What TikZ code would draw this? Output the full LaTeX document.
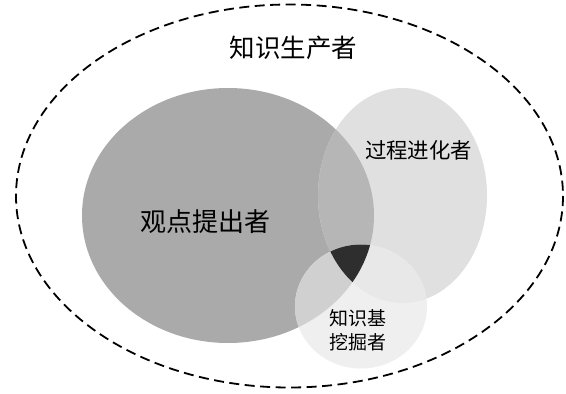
\documentclass[tikz,border=0pt]{standalone}
\usepackage{fontspec}
\newfontfamily\cjk{Noto Sans CJK SC}
\definecolor{cbig}{HTML}{AAAAAA}
\definecolor{cell}{HTML}{E0E0E0}
\definecolor{csmall}{HTML}{EFEFEF}
\definecolor{cbe}{HTML}{B6B6B6}
\definecolor{cbs}{HTML}{D0D0D0}
\definecolor{ces}{HTML}{E8E8E8}
\definecolor{call}{HTML}{2E2E2E}
\tikzset{lbl/.style={text=black, inner sep=0pt}}
\begin{document}
\begin{tikzpicture}[x=1pt,y=-1pt]
\useasboundingbox (0,0) rectangle (566,394);
\fill[white] (0,0) rectangle (566,394);
% base shapes
\fill[cbig] (228,215.5) ellipse [x radius=146, y radius=127.5];
\fill[cell] (402.5,195.5) ellipse [x radius=84.5, y radius=107.5];
\fill[csmall] (361,306.5) ellipse [x radius=66, y radius=62];
% big and ellipse
\begin{scope}
\clip (228,215.5) ellipse [x radius=146, y radius=127.5];
\fill[cbe] (402.5,195.5) ellipse [x radius=84.5, y radius=107.5];
\end{scope}
% big and small
\begin{scope}
\clip (228,215.5) ellipse [x radius=146, y radius=127.5];
\fill[cbs] (361,306.5) ellipse [x radius=66, y radius=62];
\end{scope}
% ellipse and small
\begin{scope}
\clip (402.5,195.5) ellipse [x radius=84.5, y radius=107.5];
\fill[ces] (361,306.5) ellipse [x radius=66, y radius=62];
\end{scope}
% all three
\begin{scope}
\clip (228,215.5) ellipse [x radius=146, y radius=127.5];
\clip (402.5,195.5) ellipse [x radius=84.5, y radius=107.5];
\fill[call] (361,306.5) ellipse [x radius=66, y radius=62];
\end{scope}
% outer dashed ellipse
\draw[black, line width=1.8pt, dash pattern=on 10pt off 5.5pt] (289.5,196) ellipse [x radius=273.5, y radius=191.5];
% labels
\node[lbl, font=\cjk\fontsize{25.5}{25.5}\selectfont] (producer) at (293.5,48) {知识生产者};
\node[lbl, font=\cjk\fontsize{26}{26}\selectfont] (proposer) at (205,222) {观点提出者};
\node[lbl, font=\cjk\fontsize{21.4}{21.4}\selectfont] (evolver) at (418.5,150) {过程进化者};
\node[lbl, font=\cjk\fontsize{19}{24}\selectfont, align=center] (miner) at (358,330) {知识基\\挖掘者};
\end{tikzpicture}
\end{document}
